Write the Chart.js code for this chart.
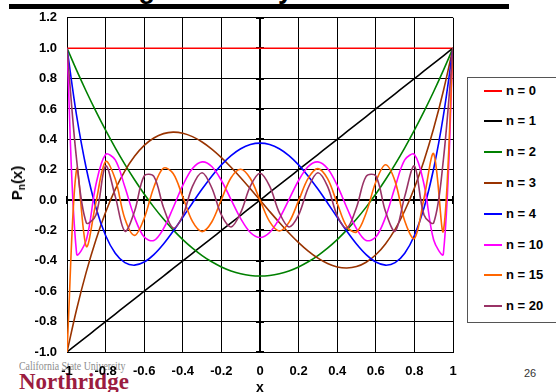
<!DOCTYPE html>
<html>
<head>
<meta charset="utf-8">
<script src="https://cdn.jsdelivr.net/npm/chart.js@4/dist/chart.umd.min.js"></script>
<style>
  html, body { margin:0; padding:0; background:#fff; }
  #wrap { position:relative; width:556px; height:392px; overflow:hidden; background:#fff; font-family:"Liberation Sans", Arial, sans-serif; }
  #c { position:absolute; left:0; top:0; z-index:2; }
  .abs { position:absolute; white-space:nowrap; }
  #title { left:107px; top:-24px; font-size:27px; line-height:27px; font-weight:bold; color:#000; z-index:1; }
  #bar { left:9px; top:4px; width:500px; height:5px; background:#000; z-index:1; }
  #csu { left:19px; top:360px; font-family:"Liberation Serif", serif; font-size:12.5px; line-height:13px; color:#8d8d8d; z-index:1; transform:scaleX(0.79); transform-origin:0 0; }
  #nr { left:19px; top:370px; font-family:"Liberation Serif", serif; font-weight:bold; font-size:23px; line-height:23px; color:#9b1c40; z-index:1; }
  #page { left:524px; top:367px; font-size:11px; line-height:13px; color:#333; z-index:1; }
  #ytitle { left:17px; top:183px; transform:translate(-50%,-50%) rotate(-90deg); font-weight:bold; font-size:15px; line-height:16px; z-index:3; }
  #ytitle sub { font-size:10px; vertical-align:-3px; line-height:0; }
  #xtitle { left:260px; top:387px; transform:translate(-50%,-50%); font-weight:bold; font-size:14px; line-height:14px; z-index:3; }
  #legend { left:467px; top:77px; width:130px; height:244px; border:1px solid #555; background:#fff; z-index:3; }
  .lrow { position:absolute; left:0; height:0; }
  .lline { position:absolute; left:16px; width:18px; height:2px; top:-1px; }
  .ltext { position:absolute; left:38px; top:-8px; font-weight:bold; font-size:13px; line-height:16px; color:#000; white-space:nowrap; }
</style>
</head>
<body>
<div id="wrap">
  <div id="title" class="abs">Legendre Polynomials</div>
  <div id="bar" class="abs"></div>
  <div id="csu" class="abs">California State University</div>
  <div id="nr" class="abs">Northridge</div>
  <div id="page" class="abs">26</div>
  <canvas id="c" width="556" height="392"></canvas>
  <div id="ytitle" class="abs">P<sub>n</sub>(x)</div>
  <div id="xtitle" class="abs">x</div>
  <div id="legend" class="abs"></div>
</div>
<script>
const xValues = [-1, -0.95, -0.9, -0.85, -0.8, -0.75, -0.7, -0.65, -0.6, -0.55, -0.5, -0.45, -0.4, -0.35, -0.3, -0.25, -0.2, -0.15, -0.1, -0.05, 0,
                 0.05, 0.1, 0.15, 0.2, 0.25, 0.3, 0.35, 0.4, 0.45, 0.5, 0.55, 0.6, 0.65, 0.7, 0.75, 0.8, 0.85, 0.9, 0.95, 1];

const p0 = [1, 1, 1, 1, 1, 1, 1, 1, 1, 1, 1, 1, 1, 1, 1, 1, 1, 1, 1, 1, 1,
            1, 1, 1, 1, 1, 1, 1, 1, 1, 1, 1, 1, 1, 1, 1, 1, 1, 1, 1, 1];
const p1 = [-1, -0.95, -0.9, -0.85, -0.8, -0.75, -0.7, -0.65, -0.6, -0.55, -0.5, -0.45, -0.4, -0.35, -0.3, -0.25, -0.2, -0.15, -0.1, -0.05, 0,
            0.05, 0.1, 0.15, 0.2, 0.25, 0.3, 0.35, 0.4, 0.45, 0.5, 0.55, 0.6, 0.65, 0.7, 0.75, 0.8, 0.85, 0.9, 0.95, 1];
const p2 = [1, 0.8538, 0.715, 0.5838, 0.46, 0.3438, 0.235, 0.1338, 0.04, -0.0463, -0.125, -0.1963, -0.26, -0.3163, -0.365, -0.4063, -0.44, -0.4663, -0.485, -0.4963, -0.5,
            -0.4963, -0.485, -0.4663, -0.44, -0.4063, -0.365, -0.3163, -0.26, -0.1963, -0.125, -0.0463, 0.04, 0.1338, 0.235, 0.3438, 0.46, 0.5838, 0.715, 0.8538, 1];
const p3 = [-1, -0.7184, -0.4725, -0.2603, -0.08, 0.0703, 0.1925, 0.2884, 0.36, 0.4091, 0.4375, 0.4472, 0.44, 0.4178, 0.3825, 0.3359, 0.28, 0.2166, 0.1475, 0.0747, 0,
            -0.0747, -0.1475, -0.2166, -0.28, -0.3359, -0.3825, -0.4178, -0.44, -0.4472, -0.4375, -0.4091, -0.36, -0.2884, -0.1925, -0.0703, 0.08, 0.2603, 0.4725, 0.7184, 1];
const p4 = [1, 0.5541, 0.2079, -0.0506, -0.233, -0.3501, -0.4121, -0.4284, -0.408, -0.359, -0.2891, -0.205, -0.113, -0.0187, 0.0729, 0.1577, 0.232, 0.2928, 0.3379, 0.3657, 0.375,
            0.3657, 0.3379, 0.2928, 0.232, 0.1577, 0.0729, -0.0187, -0.113, -0.205, -0.2891, -0.359, -0.408, -0.4284, -0.4121, -0.3501, -0.233, -0.0506, 0.2079, 0.5541, 1];
const p10 = [1, -0.3549, -0.2631, 0.1029, 0.3005, 0.2644, 0.0858, -0.1136, -0.2437, -0.2658, -0.1882, -0.0504, 0.0968, 0.2073, 0.2515, 0.2212, 0.1291, 0.003, -0.1221, -0.213, -0.2461,
             -0.213, -0.1221, 0.003, 0.1291, 0.2212, 0.2515, 0.2073, 0.0968, -0.0504, -0.1882, -0.2658, -0.2437, -0.1136, 0.0858, 0.2644, 0.3005, 0.1029, -0.2631, -0.3549, 1];
const p15 = [-1, 0.2042, -0.3052, -0.0147, 0.2535, 0.1381, -0.1232, -0.2323, -0.1194, 0.0849, 0.21, 0.1751, 0.0209, -0.1408, -0.2074, -0.1444, 0.0039, 0.1471, 0.2031, 0.142, 0,
             -0.142, -0.2031, -0.1471, -0.0039, 0.1444, 0.2074, 0.1408, -0.0209, -0.1751, -0.21, -0.0849, 0.1194, 0.2323, 0.1232, -0.1381, -0.2535, 0.0147, 0.3052, -0.2042, 1];
const p20 = [1, 0.2639, -0.1493, -0.0983, 0.2242, 0.0245, -0.2046, -0.0737, 0.1592, 0.1565, -0.0484, -0.1844, -0.1016, 0.0907, 0.1803, 0.081, -0.098, -0.1769, -0.0821, 0.0914, 0.1762,
             0.0914, -0.0821, -0.1769, -0.098, 0.081, 0.1803, 0.0907, -0.1016, -0.1844, -0.0484, 0.1565, 0.1592, -0.0737, -0.2046, 0.0245, 0.2242, -0.0983, -0.1493, 0.2639, 1];

const seriesLabels = ['n = 0', 'n = 1', 'n = 2', 'n = 3', 'n = 4', 'n = 10', 'n = 15', 'n = 20'];
const seriesValues = [p0, p1, p2, p3, p4, p10, p15, p20];
const seriesColors = ['#ff0000', '#000000', '#008000', '#993300', '#0000ff', '#ff00ff', '#ff6600', '#993366'];

const xTicks = [-1, -0.8, -0.6, -0.4, -0.2, 0, 0.2, 0.4, 0.6, 0.8, 1];
const xTickLabels = ['-1', '-0.8', '-0.6', '-0.4', '-0.2', '0', '0.2', '0.4', '0.6', '0.8', '1'];
const yTicks = [-1, -0.8, -0.6, -0.4, -0.2, 0, 0.2, 0.4, 0.6, 0.8, 1, 1.2];
const yTickLabels = ['-1.0', '-0.8', '-0.6', '-0.4', '-0.2', '0.0', '0.2', '0.4', '0.6', '0.8', '1.0', '1.2'];

// ---- chart ----
const FONT = "'Liberation Sans', Arial, sans-serif";
const datasets = seriesValues.map((vals, i) => ({
  label: seriesLabels[i],
  data: xValues.map((x, j) => ({ x: x, y: vals[j] })),
  borderColor: seriesColors[i],
  backgroundColor: seriesColors[i],
  borderWidth: 1.6,
  pointRadius: 0,
  tension: 0.34,
  fill: false,
  order: seriesValues.length - i
}));

const axisTicks = {
  id: 'axisTicks',
  beforeDatasetsDraw(chart) {
    const { ctx, scales: { x, y } } = chart;
    const x0 = x.getPixelForValue(0), y0 = y.getPixelForValue(0);
    ctx.save();
    ctx.strokeStyle = '#000';
    ctx.lineWidth = 2;
    ctx.beginPath();
    yTicks.forEach(v => { const py = Math.round(y.getPixelForValue(v)); ctx.moveTo(x0 - 4, py); ctx.lineTo(x0 + 4, py); });
    xTicks.forEach(v => { const px = Math.round(x.getPixelForValue(v)); ctx.moveTo(px, y0 - 4); ctx.lineTo(px, y0 + 4); });
    ctx.stroke();
    ctx.restore();
  }
};

new Chart(document.getElementById('c'), {
  type: 'line',
  data: { datasets },
  plugins: [axisTicks],
  options: {
    responsive: false,
    animation: false,
    devicePixelRatio: 1,
    layout: { padding: { left: 0, right: 103, top: 16, bottom: 0 } },
    plugins: { legend: { display: false }, tooltip: { enabled: false }, title: { display: false } },
    scales: {
      x: {
        type: 'linear', min: -1, max: 1,
        afterBuildTicks: s => { s.ticks = xTicks.map(v => ({ value: v })); },
        afterFit: s => { s.height = 40; },
        ticks: { autoSkip: false, maxRotation: 0, padding: 12, color: '#000',
                 font: { family: FONT, size: 13, weight: 'bold' },
                 callback: (v, i) => xTickLabels[i] },
        grid: { color: '#000', lineWidth: ctx => (ctx.tick && ctx.tick.value === 0 ? 2 : 1), drawTicks: false },
        border: { display: true, color: '#000', width: 1 }
      },
      y: {
        type: 'linear', min: -1, max: 1.2,
        afterBuildTicks: s => { s.ticks = yTicks.map(v => ({ value: v })); },
        afterFit: s => { s.width = 67; },
        ticks: { autoSkip: false, padding: 10, color: '#000',
                 font: { family: FONT, size: 13, weight: 'bold' },
                 callback: (v, i) => yTickLabels[i] },
        grid: { color: '#000', lineWidth: ctx => (ctx.tick && ctx.tick.value === 0 ? 2 : 1), drawTicks: false },
        border: { display: true, color: '#000', width: 1 }
      }
    }
  }
});

// ---- legend (built from the series arrays) ----
const legend = document.getElementById('legend');
seriesLabels.forEach((lab, i) => {
  const row = document.createElement('div');
  row.className = 'lrow';
  row.style.top = (12.5 + i * 30.8) + 'px';
  row.innerHTML = '<div class="lline" style="background:' + seriesColors[i] + '"></div><div class="ltext">' + lab + '</div>';
  legend.appendChild(row);
});
</script>
</body>
</html>
